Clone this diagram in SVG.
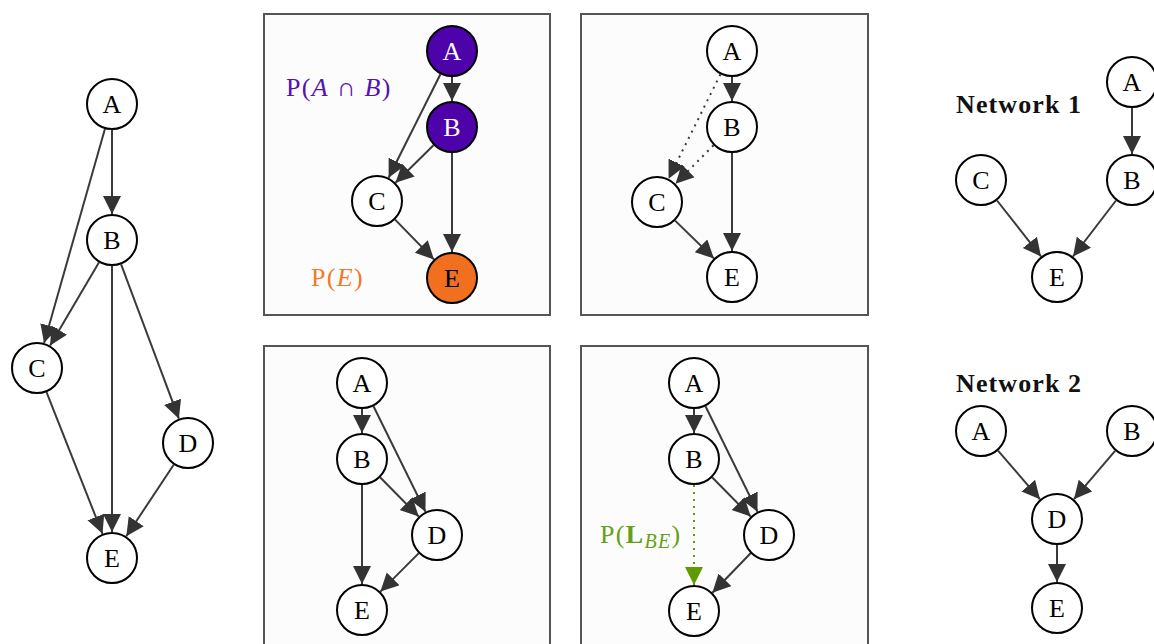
<svg xmlns="http://www.w3.org/2000/svg" width="1154" height="644" viewBox="0 0 1154 644">
<style>
.panel{fill:#fcfcfc;stroke:#555;stroke-width:2}
.n circle{fill:#fff;stroke:#000;stroke-width:2}
.n text{font-family:"Liberation Serif","DejaVu Serif",serif;font-size:26px;text-anchor:middle;fill:#000}
.n.purple circle{fill:#4d02aa}
.n.purple text{fill:#fff}
.n.orange circle{fill:#f07020}
.e{stroke:#3a3a3a;stroke-width:2;fill:none;marker-end:url(#ah)}
.dot{stroke-dasharray:2 5}
.g{stroke:#5f9a00;marker-end:url(#ahg)}
.lbl{font-family:"Liberation Serif","DejaVu Serif",serif;font-size:26px;letter-spacing:1.3px}
.net{font-family:"Liberation Serif","DejaVu Serif",serif;font-size:26px;font-weight:bold;fill:#111;letter-spacing:1.1px}
</style>
<defs>
<marker id="ah" markerUnits="userSpaceOnUse" markerWidth="19" markerHeight="19" refX="18" refY="9" orient="auto" viewBox="0 0 19 19">
<path d="M0,0 L18,9 L0,18 Z" fill="#333"/>
</marker>
<marker id="ahg" markerUnits="userSpaceOnUse" markerWidth="19" markerHeight="19" refX="18" refY="9" orient="auto" viewBox="0 0 19 19">
<path d="M0,0 L18,9 L0,18 Z" fill="#5f9a00"/>
</marker>
</defs>
<rect width="1154" height="644" fill="#fff"/>
<g id="panels">
<rect class="panel" x="264" y="14" width="286" height="301"/>
<rect class="panel" x="581" y="14" width="287" height="301"/>
<rect class="panel" x="264" y="346" width="286" height="310"/>
<rect class="panel" x="581" y="346" width="287" height="310"/>
</g>
<g id="connectors">
<line class="e" x1="112" y1="130" x2="112" y2="214"/>
<line class="e" x1="104.9" y1="129" x2="44.1" y2="343"/>
<line class="e" x1="98.9" y1="262.4" x2="50.1" y2="345.6"/>
<line class="e" x1="112" y1="266" x2="112" y2="532"/>
<line class="e" x1="121.1" y1="264.3" x2="178.9" y2="418.7"/>
<line class="e" x1="46.5" y1="392.2" x2="102.5" y2="533.8"/>
<line class="e" x1="173.7" y1="464.7" x2="126.3" y2="536.3"/>
<line class="e" x1="452" y1="77" x2="452" y2="101"/>
<line class="e" x1="440.4" y1="74.3" x2="388.6" y2="177.7"/>
<line class="e" x1="433.5" y1="145.3" x2="395.5" y2="182.7"/>
<line class="e" x1="452" y1="153" x2="452" y2="252"/>
<line class="e" x1="395.1" y1="219.6" x2="433.9" y2="259.4"/>
<line class="e" x1="732" y1="77" x2="732" y2="101"/>
<line class="e dot" x1="720.4" y1="74.3" x2="668.6" y2="178.7"/>
<line class="e dot" x1="713.5" y1="145.3" x2="675.5" y2="183.7"/>
<line class="e" x1="732" y1="153" x2="732" y2="251"/>
<line class="e" x1="675.1" y1="220.6" x2="713.9" y2="258.4"/>
<line class="e" x1="362" y1="409" x2="362" y2="433"/>
<line class="e" x1="373.5" y1="406.3" x2="425.5" y2="511.7"/>
<line class="e" x1="380.3" y1="477.5" x2="418.7" y2="516.5"/>
<line class="e" x1="362" y1="485" x2="362" y2="584"/>
<line class="e" x1="418.6" y1="553.4" x2="380.4" y2="591.6"/>
<line class="e" x1="694" y1="409" x2="694" y2="433"/>
<line class="e" x1="705.5" y1="406.3" x2="757.5" y2="511.7"/>
<line class="e" x1="712.3" y1="477.5" x2="750.7" y2="516.5"/>
<line class="e dot g" x1="694" y1="485" x2="694" y2="585"/>
<line class="e" x1="750.6" y1="553.3" x2="712.4" y2="592.7"/>
<line class="e" x1="1132" y1="108" x2="1132" y2="154"/>
<line class="e" x1="997" y1="200.5" x2="1041" y2="256.5"/>
<line class="e" x1="1116" y1="200.5" x2="1073" y2="256.5"/>
<line class="e" x1="998" y1="450.7" x2="1040" y2="499.3"/>
<line class="e" x1="1115.1" y1="450.8" x2="1073.9" y2="499.2"/>
<line class="e" x1="1057" y1="545" x2="1057" y2="582"/>
</g>
<g id="L-A" class="n"><circle cx="112" cy="104" r="25"/><text x="112" y="113">A</text></g>
<g id="L-B" class="n"><circle cx="112" cy="240" r="25"/><text x="112" y="249">B</text></g>
<g id="L-C" class="n"><circle cx="37" cy="368" r="25"/><text x="37" y="377">C</text></g>
<g id="L-D" class="n"><circle cx="188" cy="443" r="25"/><text x="188" y="452">D</text></g>
<g id="L-E" class="n"><circle cx="112" cy="558" r="25"/><text x="112" y="567">E</text></g>
<g id="P1-A" class="n purple"><circle cx="452" cy="51" r="25"/><text x="452" y="60">A</text></g>
<g id="P1-B" class="n purple"><circle cx="452" cy="127" r="25"/><text x="452" y="136">B</text></g>
<g id="P1-C" class="n"><circle cx="377" cy="201" r="25"/><text x="377" y="210">C</text></g>
<g id="P1-E" class="n orange"><circle cx="452" cy="278" r="25"/><text x="452" y="287">E</text></g>
<text id="lbl-AB" class="lbl" x="286" y="96" fill="#5412b0">P(<tspan font-style="italic">A</tspan> ∩ <tspan font-style="italic">B</tspan>)</text>
<text id="lbl-E" class="lbl" x="311" y="286" fill="#f07a2a">P(<tspan font-style="italic">E</tspan>)</text>
<g id="P2-A" class="n"><circle cx="732" cy="51" r="25"/><text x="732" y="60">A</text></g>
<g id="P2-B" class="n"><circle cx="732" cy="127" r="25"/><text x="732" y="136">B</text></g>
<g id="P2-C" class="n"><circle cx="657" cy="202" r="25"/><text x="657" y="211">C</text></g>
<g id="P2-E" class="n"><circle cx="732" cy="277" r="25"/><text x="732" y="286">E</text></g>
<g id="P3-A" class="n"><circle cx="362" cy="383" r="25"/><text x="362" y="392">A</text></g>
<g id="P3-B" class="n"><circle cx="362" cy="459" r="25"/><text x="362" y="468">B</text></g>
<g id="P3-D" class="n"><circle cx="437" cy="535" r="25"/><text x="437" y="544">D</text></g>
<g id="P3-E" class="n"><circle cx="362" cy="610" r="25"/><text x="362" y="619">E</text></g>
<g id="P4-A" class="n"><circle cx="694" cy="383" r="25"/><text x="694" y="392">A</text></g>
<g id="P4-B" class="n"><circle cx="694" cy="459" r="25"/><text x="694" y="468">B</text></g>
<g id="P4-D" class="n"><circle cx="769" cy="535" r="25"/><text x="769" y="544">D</text></g>
<g id="P4-E" class="n"><circle cx="694" cy="611" r="25"/><text x="694" y="620">E</text></g>
<text id="lbl-LBE" class="lbl" x="600" y="543" fill="#66a014">P(<tspan font-weight="bold">L</tspan><tspan font-style="italic" font-size="20" dy="5">BE</tspan><tspan dy="-5">)</tspan></text>
<text id="net1" class="net" x="956" y="113">Network 1</text>
<g id="N1-A" class="n"><circle cx="1132" cy="82" r="25"/><text x="1132" y="91">A</text></g>
<g id="N1-B" class="n"><circle cx="1132" cy="180" r="25"/><text x="1132" y="189">B</text></g>
<g id="N1-C" class="n"><circle cx="981" cy="180" r="25"/><text x="981" y="189">C</text></g>
<g id="N1-E" class="n"><circle cx="1057" cy="277" r="25"/><text x="1057" y="286">E</text></g>
<text id="net2" class="net" x="956" y="392">Network 2</text>
<g id="N2-A" class="n"><circle cx="981" cy="431" r="25"/><text x="981" y="440">A</text></g>
<g id="N2-B" class="n"><circle cx="1132" cy="431" r="25"/><text x="1132" y="440">B</text></g>
<g id="N2-D" class="n"><circle cx="1057" cy="519" r="25"/><text x="1057" y="528">D</text></g>
<g id="N2-E" class="n"><circle cx="1057" cy="608" r="25"/><text x="1057" y="617">E</text></g>
</svg>
